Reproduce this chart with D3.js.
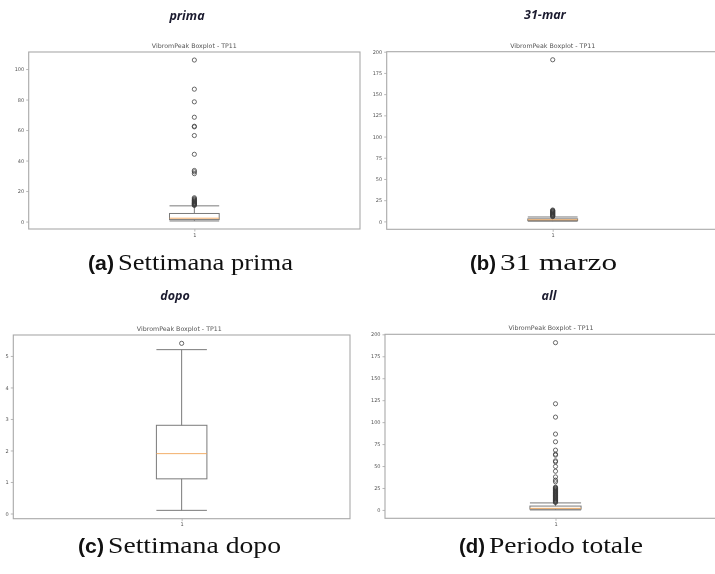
<!DOCTYPE html>
<html>
<head>
<meta charset="utf-8">
<script src="https://cdn.jsdelivr.net/npm/d3@7"></script>
<style>
  html, body { margin: 0; padding: 0; background: #fff; }
  svg { display: block; }
</style>
</head>
<body>
<svg id="fig" width="715" height="574"></svg>
<script>
// ---- data: VibromPeak boxplot statistics per period (TP11) ----
const panelKeys   = ["prima", "31-mar", "dopo", "all"];
const captionTags = ["(a)", "(b)", "(c)", "(d)"];
const captionText = ["Settimana prima", "31 marzo", "Settimana dopo", "Periodo totale"];
const plotTitle   = "VibromPeak Boxplot - TP11";
const xTickLabels = ["1"];

// [lower whisker, Q1, median, Q3, upper whisker]
const statsPrima = [0.4, 1.3, 2.2, 5.3, 10.3];
const statsMar31 = [0.2, 1.0, 1.9, 3.0, 5.2];
const statsDopo  = [0.1, 1.1, 1.9, 2.8, 5.2];
const statsAll   = [0.0, 0.9, 1.8, 4.4, 8.0];

const outliersPrima = [10.6, 10.9, 11.2, 11.5, 11.8, 12.1, 12.4, 12.8, 13.2, 13.6, 14.0, 14.5, 15.0, 15.6,
                       31.4, 32.6, 33.5, 44.1, 56.4, 62.1, 62.5, 68.4, 78.5, 86.8, 105.9];
const outliersMar31 = [5.6, 6.2, 6.8, 7.4, 8.0, 8.6, 9.2, 9.8, 10.4, 11.0, 11.6, 12.2, 12.8, 13.4, 190.5];
const outliersDopo  = [5.4];
const outliersAll   = [8.5, 9.2, 9.9, 10.6, 11.3, 12.0, 12.7, 13.4, 14.1, 14.8, 15.5, 16.2, 16.9, 17.6, 18.3,
                       19.0, 19.7, 20.4, 21.1, 21.8, 22.5, 23.2, 23.9, 24.6, 25.3, 26.0,
                       32.0, 33.9, 37.6, 44.1, 49.5, 54.7, 55.9, 62.4, 63.5, 68.1, 77.6, 86.4, 105.7, 120.9, 190.5];

const yTicksPrima = [0, 20, 40, 60, 80, 100];
const yTicksMar31 = [0, 25, 50, 75, 100, 125, 150, 175, 200];
const yTicksDopo  = [0, 1, 2, 3, 4, 5];
const yTicksAll   = [0, 25, 50, 75, 100, 125, 150, 175, 200];

// ---- layout: axes frames and label placement ----
const frames = [
  { x0: 28.7,  x1: 360,   y0: 52,    y1: 229   },
  { x0: 386.7, x1: 718.7, y0: 51.7,  y1: 229.3 },
  { x0: 13.3,  x1: 350,   y0: 335,   y1: 518.7 },
  { x0: 385,   x1: 726,   y0: 334.3, y1: 518.3 }
];
const headerPos = [{ x: 187, y: 20 }, { x: 545, y: 19 }, { x: 175, y: 300 }, { x: 549, y: 300 }];
// caption: tag start, text start, text end, baseline
const captionPos = [
  { tag: 88,  x0: 118, x1: 293, y: 270 },
  { tag: 470, x0: 500, x1: 617, y: 270 },
  { tag: 78,  x0: 108, x1: 281, y: 553 },
  { tag: 459, x0: 489, x1: 643, y: 553 }
];

const panels = [
  { stats: statsPrima, out: outliersPrima, ticks: yTicksPrima },
  { stats: statsMar31, out: outliersMar31, ticks: yTicksMar31 },
  { stats: statsDopo,  out: outliersDopo,  ticks: yTicksDopo  },
  { stats: statsAll,   out: outliersAll,   ticks: yTicksAll   }
];

const svg = d3.select("#fig");
const defs = svg.append("defs");
defs.append("filter").attr("id", "soft")
  .attr("x", "-5%").attr("y", "-5%").attr("width", "110%").attr("height", "110%")
  .append("feGaussianBlur").attr("stdDeviation", 0.35);
const clip = defs.append("clipPath").attr("id", "page");
clip.append("rect").attr("x", 0).attr("y", 0).attr("width", 715).attr("height", 574);

const frameColor = "#a9a9a9";
const boxColor   = "#7a7a7a";
const textColor  = "#555";
const medianColor = "#f2a65a";
const fmt = d3.format("d");

panels.forEach((p, i) => {
  const f = frames[i];
  const all = p.stats.concat(p.out);
  const lo = d3.min(all), hi = d3.max(all);
  const pad = (hi - lo) * 0.05;

  const y = d3.scaleLinear().domain([lo - pad, hi + pad]).range([f.y1, f.y0]);
  const x = d3.scaleLinear().domain([0.5, 1.5]).range([f.x0, f.x1]);
  const boxW = 0.15, capW = 0.075;

  const g = svg.append("g").attr("clip-path", "url(#page)")
    .append("g").attr("filter", "url(#soft)");

  // y axis ticks
  const ticks = p.ticks.filter(t => y(t) >= f.y0 - 0.6 && y(t) <= f.y1 + 0.6);
  const yAxis = d3.axisLeft(y).tickValues(ticks).tickFormat(fmt)
    .tickSize(2.5).tickPadding(2).tickSizeOuter(0);
  const ag = g.append("g").attr("transform", `translate(${f.x0},0)`).call(yAxis);
  ag.select(".domain").remove();
  ag.selectAll("line").attr("stroke", "#888").attr("stroke-width", 0.6);
  ag.selectAll("text").attr("fill", textColor).attr("font-family", "DejaVu Sans")
    .attr("font-size", 5);

  // x axis tick
  const xAxis = d3.axisBottom(x).tickValues([1]).tickFormat((d, k) => xTickLabels[k])
    .tickSize(2.5).tickPadding(1.5).tickSizeOuter(0);
  const xg = g.append("g").attr("transform", `translate(0,${f.y1})`).call(xAxis);
  xg.select(".domain").remove();
  xg.selectAll("line").attr("stroke", "#888").attr("stroke-width", 0.6);
  xg.selectAll("text").attr("fill", textColor).attr("font-family", "DejaVu Sans")
    .attr("font-size", 5);

  // frame
  g.append("rect")
    .attr("x", f.x0).attr("y", f.y0)
    .attr("width", f.x1 - f.x0).attr("height", f.y1 - f.y0)
    .attr("fill", "none").attr("stroke", frameColor).attr("stroke-width", 1.1);

  // title
  g.append("text")
    .attr("x", (f.x0 + Math.min(f.x1, f.x0 + 332)) / 2).attr("y", f.y0 - 4)
    .attr("text-anchor", "middle")
    .attr("font-family", "DejaVu Sans").attr("font-size", 6.3)
    .attr("fill", "#555")
    .text(plotTitle);

  const [wl, q1, med, q3, wh] = p.stats;
  const line = (x1v, y1v, x2v, y2v, col, sw) => g.append("line")
    .attr("x1", x1v).attr("y1", y1v).attr("x2", x2v).attr("y2", y2v)
    .attr("stroke", col).attr("stroke-width", sw);

  // whiskers and caps
  line(x(1), y(q1), x(1), y(wl), boxColor, 1);
  line(x(1), y(q3), x(1), y(wh), boxColor, 1);
  line(x(1 - capW), y(wl), x(1 + capW), y(wl), boxColor, 1);
  line(x(1 - capW), y(wh), x(1 + capW), y(wh), boxColor, 1);

  // box
  g.append("rect")
    .attr("x", x(1 - boxW / 2)).attr("y", y(q3))
    .attr("width", x(1 + boxW / 2) - x(1 - boxW / 2))
    .attr("height", Math.max(0.5, y(q1) - y(q3)))
    .attr("fill", "none").attr("stroke", boxColor).attr("stroke-width", 1);

  // median
  line(x(1 - boxW / 2), y(med), x(1 + boxW / 2), y(med), medianColor, 0.9);

  // outliers
  g.selectAll("circle.fl").data(p.out).join("circle")
    .attr("class", "fl")
    .attr("cx", x(1)).attr("cy", d => y(d)).attr("r", 2.1)
    .attr("fill", "none").attr("stroke", "#3a3a3a").attr("stroke-width", 0.75);

  // period header
  svg.append("text")
    .attr("x", headerPos[i].x).attr("y", headerPos[i].y)
    .attr("text-anchor", "middle")
    .attr("font-family", "Open Sans").attr("font-weight", "bold").attr("font-style", "italic")
    .attr("font-size", 12.5).attr("fill", "#1c1c30")
    .text(panelKeys[i]);

  // sub-figure caption: bold tag + serif description
  const c = captionPos[i];
  svg.append("text")
    .attr("x", c.tag).attr("y", c.y).attr("fill", "#111")
    .attr("font-family", "Liberation Sans").attr("font-weight", "bold").attr("font-size", 21)
    .attr("textLength", c.x0 - c.tag - 4).attr("lengthAdjust", "spacingAndGlyphs")
    .text(captionTags[i]);
  svg.append("text")
    .attr("x", c.x0).attr("y", c.y).attr("fill", "#111")
    .attr("font-family", "Liberation Serif").attr("font-size", 23.5)
    .attr("textLength", c.x1 - c.x0).attr("lengthAdjust", "spacingAndGlyphs")
    .text(captionText[i]);
});
</script>
</body>
</html>
